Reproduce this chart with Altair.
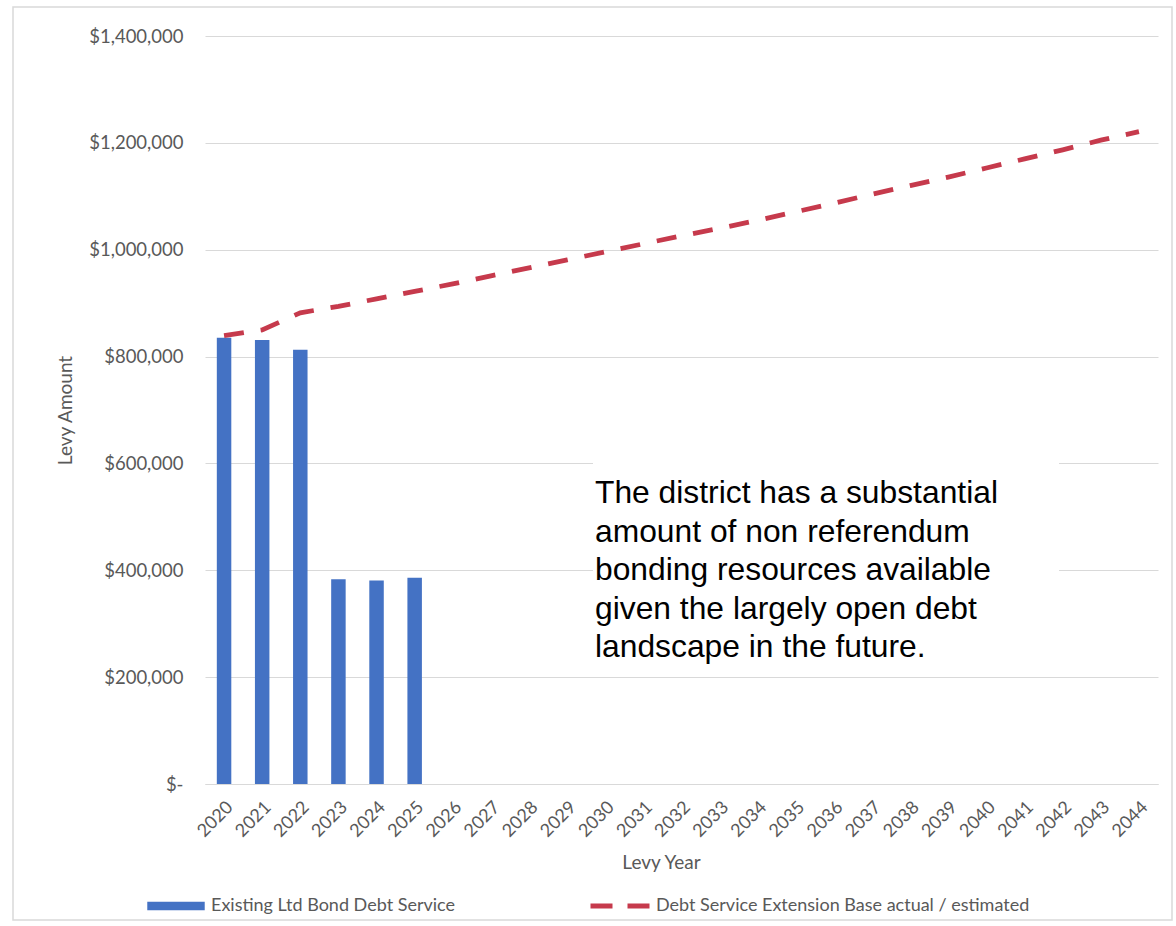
import altair as alt
import pandas as pd

years = ["2020", "2021", "2022", "2023", "2024", "2025", "2026", "2027", "2028",
         "2029", "2030", "2031", "2032", "2033", "2034", "2035", "2036", "2037",
         "2038", "2039", "2040", "2041", "2042", "2043", "2044"]

bar_years = ["2020", "2021", "2022", "2023", "2024", "2025"]
bar_values = [835000, 831000, 813000, 383000, 381000, 386000]

line_values = [839000, 850000, 882000, 894000, 908000, 922000, 936000, 951000,
               966000, 981000, 996000, 1011000, 1026000, 1040000, 1055000,
               1071000, 1087000, 1104000, 1120000, 1136000, 1153000, 1170000,
               1187000, 1205000, 1221000]

bar_name = "Existing Ltd Bond Debt Service"
line_name = "Debt Service Extension Base actual / estimated"

note_lines = ["The district has a substantial",
              "amount of non referendum",
              "bonding resources available",
              "given the largely open debt",
              "landscape in the future."]

y_ticks = [0, 200000, 400000, 600000, 800000, 1000000, 1200000, 1400000]

bars_df = pd.DataFrame({"year": bar_years, "value": bar_values, "series": bar_name})
line_df = pd.DataFrame({"year": years, "value": line_values, "series": line_name})
one = pd.DataFrame({"k": [0]})

FONT = "Lato"
GRAY = "#595959"

x_scale = alt.Scale(domain=years, paddingInner=0.62, paddingOuter=0.31)
y_scale = alt.Scale(domain=[0, 1400000], nice=False)

x_axis = alt.Axis(title="Levy Year", labelAngle=-45, labelPadding=14, labelFontSize=18,
                  ticks=False, domain=True, domainColor="#D9D9D9", grid=False,
                  titleX=456, titleY=78, titleBaseline="middle", titleAlign="center")
y_axis = alt.Axis(title="Levy Amount", values=y_ticks, ticks=False, domain=False,
                  gridColor="#D9D9D9", labelPadding=22,
                  labelExpr="datum.value == 0 ? '$-\u00a0\u00a0\u00a0' : '$' + format(datum.value, ',')",
                  titleX=-140, titleY=374, titleAngle=-90, titleAlign="center",
                  titleBaseline="middle")

border = alt.Chart(one).mark_rect(fillOpacity=0, stroke="#D9D9D9", strokeWidth=1.5).encode(
    x=alt.value(-192), x2=alt.value(967), y=alt.value(-29), y2=alt.value(884))

bars = alt.Chart(bars_df).mark_bar().encode(
    x=alt.X("year:N", scale=x_scale, axis=x_axis, sort=years),
    y=alt.Y("value:Q", scale=y_scale, axis=y_axis),
    color=alt.Color("series:N", scale=alt.Scale(domain=[bar_name], range=["#4472C4"]),
                    legend=alt.Legend(title=None, orient="none", legendX=-58, legendY=841,
                                      symbolType="M-1,-0.15L1,-0.15L1,0.15L-1,0.15Z",
                                      symbolSize=3300, symbolStrokeWidth=0, labelOffset=6)),
)

line = alt.Chart(line_df).mark_line(strokeWidth=4.8, strokeDash=[20, 17]).encode(
    x=alt.X("year:N", scale=x_scale, sort=years),
    y=alt.Y("value:Q", scale=y_scale),
    color=alt.Color("series:N", scale=alt.Scale(domain=[line_name], range=["#C63A4C"]),
                    legend=alt.Legend(title=None, orient="none", legendX=383, legendY=838,
                                      symbolType="stroke", symbolSize=3481,
                                      symbolStrokeWidth=4.8, symbolDash=[22, 15],
                                      labelOffset=4)),
)

box = alt.Chart(one).mark_rect(fill="white").encode(
    x=alt.value(388), x2=alt.value(854), y=alt.value(425), y2=alt.value(638))

note = alt.Chart(one).mark_text(text=note_lines, align="left", baseline="alphabetic",
                                font="Liberation Sans", fontSize=31.8, lineHeight=38.5,
                                color="black").encode(x=alt.value(390), y=alt.value(467))

chart = alt.layer(border, bars, line, box, note).resolve_scale(
    color="independent"
).resolve_legend(color="independent").properties(
    width=953, height=748,
    autosize=alt.AutoSizeParams(type="none"),
    padding={"left": 205, "top": 36, "right": 18, "bottom": 142},
    background="white",
).configure_view(strokeWidth=0).configure_axis(
    labelFont=FONT, labelFontSize=18.5, labelColor=GRAY,
    titleFont=FONT, titleFontSize=19, titleColor=GRAY, titleFontWeight="normal",
).configure_legend(
    labelFont=FONT, labelFontSize=18, labelColor=GRAY, labelLimit=600,
)

chart.save("out.html", embed_options={"renderer": "svg", "actions": False})
